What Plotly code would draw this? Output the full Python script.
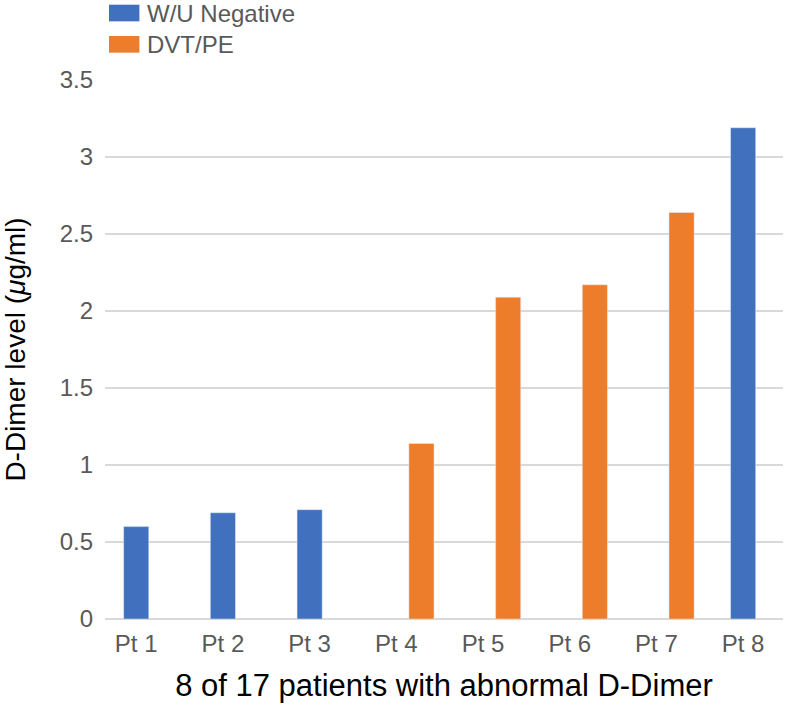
import plotly.graph_objects as go

patients = ["Pt 1", "Pt 2", "Pt 3", "Pt 4", "Pt 5", "Pt 6", "Pt 7", "Pt 8"]

neg_patients = ["Pt 1", "Pt 2", "Pt 3", "Pt 8"]
neg_values = [0.60, 0.69, 0.71, 3.19]

dvt_patients = ["Pt 4", "Pt 5", "Pt 6", "Pt 7"]
dvt_values = [1.14, 2.09, 2.17, 2.64]

series_names = ["W/U Negative", "DVT/PE"]
colors = ["#4171BE", "#ED7D2B"]

y_ticks = [0, 0.5, 1, 1.5, 2, 2.5, 3, 3.5]
y_tick_text = ["0", "0.5", "1", "1.5", "2", "2.5", "3", "3.5"]

FONT = "Liberation Sans, Arial, sans-serif"
GRAY = "#595959"

fig = go.Figure()
fig.add_trace(go.Bar(x=neg_patients, y=neg_values, name=series_names[0],
                     marker_color=colors[0], width=0.29, offset=-0.145,
                     showlegend=False))
fig.add_trace(go.Bar(x=dvt_patients, y=dvt_values, name=series_names[1],
                     marker_color=colors[1], width=0.29, offset=0.145,
                     showlegend=False))

# legend drawn by hand so the swatches can be the wide rectangles of the original
left, top, w, h = 103, 80, 680, 544
def px(xp):
    return (xp - left) / w
def py(yp):
    return (top + h - yp) / h

for i, (name, col) in enumerate(zip(series_names, colors)):
    y0 = 4 + i * 31.6
    fig.add_shape(type="rect", xref="paper", yref="paper",
                  x0=px(107), x1=px(137.5), y0=py(y0), y1=py(y0 + 16.8),
                  fillcolor=col, line_width=0)
    fig.add_annotation(text=name, xref="paper", yref="paper",
                       x=px(143), y=py(y0 + 8.4), xanchor="left", yanchor="middle",
                       showarrow=False, font=dict(family=FONT, size=24, color=GRAY))

fig.update_layout(
    width=800, height=709,
    margin=dict(l=left, r=800 - left - w, t=top, b=709 - top - h),
    plot_bgcolor="white", paper_bgcolor="white",
    font=dict(family=FONT),
    barmode="overlay",
)
fig.update_xaxes(
    categoryorder="array", categoryarray=patients,
    range=[-0.36, 7.46],
    showgrid=False, showline=False, ticks="",
    tickfont=dict(family=FONT, size=24, color=GRAY),
    ticklabelstandoff=8,
    title=dict(text="8 of 17 patients with abnormal D-Dimer",
               font=dict(family=FONT, size=31, color="black"), standoff=18),
)
fig.update_yaxes(
    range=[0, 3.5], tickvals=y_ticks, ticktext=y_tick_text,
    showgrid=True, gridcolor="#D9D9D9", gridwidth=1.5,
    zeroline=True, zerolinecolor="#D9D9D9", zerolinewidth=1.5,
    showline=False, ticks="",
    tickfont=dict(family=FONT, size=24, color=GRAY),
    ticklabelstandoff=11,
    title=dict(text="D-Dimer level (<i>μ</i>g/ml)",
               font=dict(family=FONT, size=28, color="black"), standoff=28),
)

fig.write_html("out.html", config={"displayModeBar": False},
               post_script="document.body.style.margin='0';")
